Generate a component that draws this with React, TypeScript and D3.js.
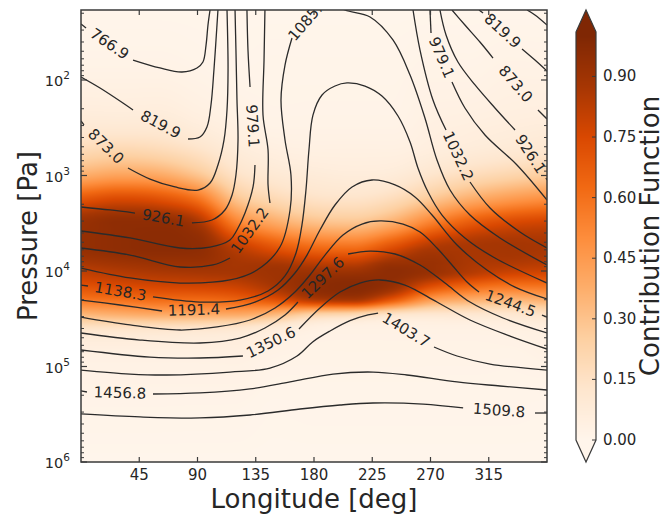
import React, { useMemo } from "react";
import * as d3 from "d3";

// ---------- axes / ticks ----------
const lonTicks = [45, 90, 135, 180, 225, 270, 315];
const pressureDecades = [2, 3, 4, 5, 6];
const cbTicks = [0, 0.15, 0.3, 0.45, 0.6, 0.75, 0.9];
const lonDomain = [0, 360];
const logPDomain = [1.267, 6]; // top, bottom
const cbDomain = [0, 1.01];

// ---------- contribution function grid (rows = log10 P, cols = longitude) ----------
const cfLon = [0, 30, 60, 90, 120, 150, 180, 210, 240, 270, 300, 330, 360];
const cfLogP = [1.25, 2.0, 2.5, 2.75, 3.0, 3.25, 3.5, 3.75, 4.0, 4.15, 4.3, 4.45, 4.6, 4.8, 5.2, 6.0];
const cf_1_25 = [0, 0, 0, 0, 0, 0, 0, 0, 0, 0, 0, 0, 0];
const cf_2_00 = [0.03, 0.03, 0.03, 0.02, 0.01, 0.01, 0.01, 0.01, 0.01, 0.02, 0.02, 0.03, 0.03];
const cf_2_50 = [0.1, 0.1, 0.1, 0.07, 0.04, 0.02, 0.02, 0.02, 0.02, 0.04, 0.05, 0.06, 0.07];
const cf_2_75 = [0.2, 0.22, 0.2, 0.15, 0.08, 0.05, 0.04, 0.04, 0.04, 0.06, 0.08, 0.1, 0.12];
const cf_3_00 = [0.38, 0.42, 0.4, 0.3, 0.15, 0.1, 0.08, 0.07, 0.08, 0.13, 0.18, 0.22, 0.26];
const cf_3_25 = [0.7, 0.75, 0.72, 0.6, 0.3, 0.2, 0.15, 0.14, 0.18, 0.28, 0.38, 0.45, 0.5];
const cf_3_50 = [0.92, 0.95, 0.95, 0.88, 0.55, 0.4, 0.32, 0.3, 0.38, 0.55, 0.68, 0.75, 0.78];
const cf_3_75 = [0.93, 0.95, 0.96, 0.95, 0.82, 0.7, 0.62, 0.6, 0.72, 0.85, 0.87, 0.88, 0.87];
const cf_4_00 = [0.82, 0.85, 0.87, 0.88, 0.88, 0.9, 0.9, 0.9, 0.95, 0.92, 0.85, 0.8, 0.78];
const cf_4_15 = [0.72, 0.75, 0.77, 0.78, 0.8, 0.88, 0.95, 0.97, 0.93, 0.75, 0.65, 0.6, 0.6];
const cf_4_30 = [0.58, 0.6, 0.62, 0.62, 0.65, 0.72, 0.85, 0.88, 0.7, 0.45, 0.38, 0.35, 0.38];
const cf_4_45 = [0.35, 0.38, 0.4, 0.4, 0.4, 0.35, 0.25, 0.22, 0.15, 0.12, 0.12, 0.12, 0.15];
const cf_4_60 = [0.14, 0.14, 0.14, 0.13, 0.12, 0.08, 0.04, 0.03, 0.03, 0.03, 0.03, 0.04, 0.05];
const cf_4_80 = [0.05, 0.05, 0.05, 0.05, 0.05, 0.03, 0.02, 0.02, 0.02, 0.02, 0.02, 0.02, 0.03];
const cf_5_20 = [0.02, 0.02, 0.02, 0.02, 0.02, 0.01, 0.01, 0.01, 0.01, 0.01, 0.01, 0.01, 0.01];
const cf_6_00 = [0, 0, 0, 0, 0, 0, 0, 0, 0, 0, 0, 0, 0];
const cfRows = [cf_1_25, cf_2_00, cf_2_50, cf_2_75, cf_3_00, cf_3_25, cf_3_50, cf_3_75, cf_4_00, cf_4_15, cf_4_30, cf_4_45, cf_4_60, cf_4_80, cf_5_20, cf_6_00];

// ---------- temperature contours, [longitude, log10 P]; a label sits in each gap between pieces ----------
const t7669 = [[[0, 1.414], [3.9, 1.456]], [[40.2, 1.791], [61.0, 1.874], [78.0, 1.916], [89.6, 1.874], [94.2, 1.812], [96.6, 1.634], [98.1, 1.424], [99.7, 1.267]]];
const t7669b = [[[344.6, 1.267], [350.7, 1.319], [360, 1.424]]];
const t8199 = [[[0, 1.969], [14.7, 2.084], [32.4, 2.241], [40.2, 2.314]], [[82.7, 2.618], [91.9, 2.597], [97.3, 2.492], [100.4, 2.262], [102.7, 1.895], [104.3, 1.581], [105.8, 1.267]]];
const t8199b = [[[307.5, 1.267], [310.6, 1.299]], [[340.7, 1.675], [350.7, 1.791], [360, 1.906]]];
const t8730 = [[[0, 2.429], [2.3, 2.471]], [[36.3, 2.921], [53.3, 3.037], [72.6, 3.12], [90.4, 3.152], [99.7, 3.079], [105.8, 2.89], [110.5, 2.628], [112.8, 2.314], [113.6, 1.895], [112.8, 1.267]]];
const t8730b = [[[286.6, 1.267], [296.6, 1.424], [308.2, 1.602], [318.3, 1.77]], [[353.0, 2.314], [360, 2.408]]];
const t9261 = [[[0, 3.33], [22.4, 3.361], [41.7, 3.393]], [[85.7, 3.497], [101.2, 3.466], [111.2, 3.361], [116.7, 3.204], [119.7, 2.995], [121.3, 2.628], [120.5, 2.209], [119.7, 1.686], [119.0, 1.267]]];
const t9261b = [[[277.3, 1.267], [282, 1.529], [291.2, 1.812], [304.4, 2.052], [319.8, 2.293], [335.3, 2.524]], [[359.2, 3.026], [360, 3.047]]];
const t9791 = [[[0, 3.581], [37.9, 3.654], [76.5, 3.759], [99.7, 3.749], [115.1, 3.675], [120.5, 3.571], [126.7, 3.393], [132.9, 3.12], [134.4, 2.89]], [[130.6, 2.073], [129.0, 1.686], [128.2, 1.267]]];
const t9791b = [[[269.6, 1.267], [270.4, 1.508]], [[286.6, 2.021], [296.6, 2.293], [312.1, 2.576], [336.8, 2.89], [360, 3.257]]];
const t10322 = [[[0, 3.759], [37.9, 3.833], [76.5, 3.958], [102, 3.937], [115.1, 3.864]], [[146, 3.288], [144.5, 3.099], [144.5, 2.733], [140.6, 2.367], [141.4, 1.791], [142.1, 1.267]]];
const t10322b = [[[256.5, 1.267], [261.9, 1.686], [271.9, 2.209], [282, 2.524]], [[300.5, 3.068], [316, 3.34], [339.1, 3.592], [360, 3.759]]];
const t10853 = [
  [[0, 3.969], [37.9, 4.073], [76.5, 4.126], [115.1, 4.094], [136, 3.99], [153.7, 3.749], [161.5, 3.361], [162.2, 2.995], [157.6, 2.628], [154.5, 2.209], [157.6, 1.843], [163, 1.56]],
  [[188.5, 1.16], [203.9, 1.267], [223.3, 1.34], [241, 1.581], [254.2, 1.948], [265.7, 2.398], [275, 2.838], [285.1, 3.152], [300.5, 3.414], [323.7, 3.654], [360, 3.937]],
];
const t11383 = [
  [[0, 4.147], [5.4, 4.157]],
  [[55.6, 4.272], [91.9, 4.325], [122.8, 4.304], [144.5, 4.209], [157.6, 4.052], [166.1, 3.812], [170.7, 3.518], [173.8, 3.152], [176.1, 2.733], [179.2, 2.367], [186.2, 2.157], [196.2, 2.063], [205.5, 2.031], [219.4, 2.063], [232.5, 2.168], [244.9, 2.377], [254.2, 2.649], [260.3, 2.921], [268.1, 3.173], [278.9, 3.414], [296.6, 3.654], [319.8, 3.864], [360, 4.126]],
];
const t11914 = [
  [[0, 4.304], [30.1, 4.356], [62.6, 4.419]],
  [[112, 4.398], [134.4, 4.325], [152.2, 4.199], [165.3, 4.021], [174.6, 3.833], [184.6, 3.571], [196.2, 3.309], [209.4, 3.12], [224.8, 3.047], [242.6, 3.099], [258, 3.225], [271.2, 3.414], [290.5, 3.728], [313.6, 3.99], [335.3, 4.168], [360, 4.293]],
];
const t12445 = [
  [[0, 4.482], [37.9, 4.565], [76.5, 4.618], [105.1, 4.586], [130.6, 4.513], [149.9, 4.387], [165.3, 4.22], [176.9, 4.042], [188.5, 3.833], [202.4, 3.623], [217.1, 3.508], [231, 3.476], [248.8, 3.508], [261.9, 3.592], [275, 3.759], [286.6, 3.937], [298.2, 4.115], [307.5, 4.22]],
  [[356.1, 4.461], [360, 4.482]],
];
const t12976 = [
  [[0, 4.649], [45.6, 4.723], [91.9, 4.754], [122.8, 4.702], [142.1, 4.597], [157.6, 4.461], [167.6, 4.325]],
  [[206.3, 3.822], [223.3, 3.791], [242.6, 3.822], [261.9, 3.937], [281.2, 4.126], [300.5, 4.325], [326, 4.492], [360, 4.649]],
];
const t13506 = [
  [[0, 4.827], [53.3, 4.901], [91.9, 4.911], [125.1, 4.89]],
  [[168.4, 4.607], [184.6, 4.387], [200.1, 4.22], [215.5, 4.126], [231, 4.094], [250.3, 4.147], [275, 4.325], [300.5, 4.513], [331.4, 4.681], [360, 4.817]],
];
const t14037 = [
  [[0, 5.037], [37.9, 5.079], [66.4, 5.089], [115.1, 5.058], [146, 5.016], [166.9, 4.89], [179.2, 4.74], [192.4, 4.628], [207.8, 4.52], [221.7, 4.46], [229.5, 4.44]],
  [[272.7, 4.796], [290.5, 4.89], [316, 4.974], [360, 5.037]],
];
const t14568 = [[[0, 5.256], [4.6, 5.267]], [[55.6, 5.288], [91.9, 5.277], [130.6, 5.235], [161.5, 5.162], [194.7, 5.079], [225.6, 5.058], [251.8, 5.089], [290.5, 5.162], [323.7, 5.204], [360, 5.246]]];
const t15098 = [[[0, 5.497], [45.6, 5.528], [91.9, 5.539], [130.6, 5.508], [169.2, 5.445], [200.1, 5.403], [225.6, 5.382], [264.3, 5.393], [295.2, 5.434]], [[350.7, 5.487], [360, 5.487]]];

const contourSets = [
  { level: 766.9, pieces: t7669 }, { level: 766.9, pieces: t7669b },
  { level: 819.9, pieces: t8199 }, { level: 819.9, pieces: t8199b },
  { level: 873.0, pieces: t8730 }, { level: 873.0, pieces: t8730b },
  { level: 926.1, pieces: t9261 }, { level: 926.1, pieces: t9261b },
  { level: 979.1, pieces: t9791 }, { level: 979.1, pieces: t9791b },
  { level: 1032.2, pieces: t10322 }, { level: 1032.2, pieces: t10322b },
  { level: 1085.3, pieces: t10853 },
  { level: 1138.3, pieces: t11383 },
  { level: 1191.4, pieces: t11914 },
  { level: 1244.5, pieces: t12445 },
  { level: 1297.6, pieces: t12976 },
  { level: 1350.6, pieces: t13506 },
  { level: 1403.7, pieces: t14037 },
  { level: 1456.8, pieces: t14568 },
  { level: 1509.8, pieces: t15098 },
];

// matplotlib "Oranges"
const orangesStops = ["#fff5eb", "#fee6ce", "#fdd0a2", "#fdae6b", "#fd8d3c", "#f16913", "#d94801", "#a63603", "#7f2704"];

const W = 664;
const H = 516;
const PX0 = 81, PX1 = 547, PY0 = 10, PY1 = 462;
const CBX0 = 576, CBX1 = 596, CBY0 = 32, CBY1 = 440;
const FONT = "DejaVu Sans, sans-serif";
const TXT = "#262626";

// monotone cubic (Fritsch-Carlson) interpolation through given samples
function monotone(xs: number[], ys: number[]) {
  const n = xs.length;
  const d: number[] = [];
  for (let k = 0; k < n - 1; k++) d.push((ys[k + 1] - ys[k]) / (xs[k + 1] - xs[k]));
  const m: number[] = new Array(n);
  m[0] = d[0];
  m[n - 1] = d[n - 2];
  for (let k = 1; k < n - 1; k++) m[k] = d[k - 1] * d[k] <= 0 ? 0 : (d[k - 1] + d[k]) / 2;
  for (let k = 0; k < n - 1; k++) {
    if (d[k] === 0) {
      m[k] = 0;
      m[k + 1] = 0;
      continue;
    }
    const a = m[k] / d[k], b = m[k + 1] / d[k];
    const s = a * a + b * b;
    if (s > 9) {
      const t = 3 / Math.sqrt(s);
      m[k] = t * a * d[k];
      m[k + 1] = t * b * d[k];
    }
  }
  return (xv: number) => {
    let k = d3.bisectRight(xs, xv) - 1;
    k = Math.max(0, Math.min(n - 2, k));
    const h = xs[k + 1] - xs[k];
    const t = Math.max(0, Math.min(1, (xv - xs[k]) / h));
    const t2 = t * t, t3 = t2 * t;
    return (2 * t3 - 3 * t2 + 1) * ys[k] + (t3 - 2 * t2 + t) * h * m[k] + (-2 * t3 + 3 * t2) * ys[k + 1] + (t3 - t2) * h * m[k + 1];
  };
}

export default function App() {
  const x = d3.scaleLinear().domain(lonDomain).range([PX0, PX1]);
  const y = d3.scaleLog().domain([Math.pow(10, logPDomain[1]), Math.pow(10, logPDomain[0])]).range([PY1, PY0]);
  const yl = (lp: number) => y(Math.pow(10, lp));
  const cb = d3.scaleLinear().domain(cbDomain).range([CBY1, CBY0]);
  const colorScale = d3
    .scaleLinear<string>()
    .domain(orangesStops.map((_, i) => i / (orangesStops.length - 1)))
    .range(orangesStops)
    .interpolate(d3.interpolateRgb)
    .clamp(true);

  const heatURL = useMemo(() => {
    const w = PX1 - PX0, h = PY1 - PY0;
    const canvas = document.createElement("canvas");
    canvas.width = w;
    canvas.height = h;
    const ctx = canvas.getContext("2d")!;
    const img = ctx.createImageData(w, h);
    const columns = cfLon.map((_, i) => monotone(cfLogP, cfRows.map((r) => r[i])));
    for (let r = 0; r < h; r++) {
      const lp = Math.log10(y.invert(PY0 + r + 0.5));
      const rowVals = columns.map((f) => f(lp));
      const across = monotone(cfLon, rowVals);
      for (let c = 0; c < w; c++) {
        const lon = x.invert(PX0 + c + 0.5);
        const v = Math.max(0, Math.min(1, across(lon)));
        const col = d3.rgb(colorScale(v));
        const k = (r * w + c) * 4;
        img.data[k] = col.r;
        img.data[k + 1] = col.g;
        img.data[k + 2] = col.b;
        img.data[k + 3] = 255;
      }
    }
    ctx.putImageData(img, 0, 0);
    return canvas.toDataURL();
  }, []);

  const cbURL = useMemo(() => {
    const h = CBY1 - CBY0;
    const canvas = document.createElement("canvas");
    canvas.width = 1;
    canvas.height = h;
    const ctx = canvas.getContext("2d")!;
    for (let r = 0; r < h; r++) {
      ctx.fillStyle = colorScale(cb.invert(CBY0 + r + 0.5));
      ctx.fillRect(0, r, 1, 1);
    }
    return canvas.toDataURL();
  }, []);

  const line = d3
    .line<number[]>()
    .x((d) => x(d[0]))
    .y((d) => yl(d[1]))
    .curve(d3.curveCatmullRom.alpha(0.5));

  const labels: { t: string; cx: number; cy: number; ang: number }[] = [];
  contourSets.forEach((cs) => {
    for (let k = 0; k < cs.pieces.length - 1; k++) {
      const a = cs.pieces[k][cs.pieces[k].length - 1];
      const b = cs.pieces[k + 1][0];
      const ax = x(a[0]), ay = yl(a[1]), bx = x(b[0]), by = yl(b[1]);
      let ang = (Math.atan2(by - ay, bx - ax) * 180) / Math.PI;
      if (ang > 90) ang -= 180;
      if (ang < -90) ang += 180;
      labels.push({ t: cs.level.toFixed(1), cx: (ax + bx) / 2, cy: (ay + by) / 2, ang });
    }
  });

  const minorTicks: number[] = [];
  for (let e = 1; e < 6; e++)
    for (let m = 2; m <= 9; m++) {
      const v = m * Math.pow(10, e);
      if (v >= Math.pow(10, logPDomain[0]) && v <= 1e6) minorTicks.push(v);
    }

  const frame = "#3a3a3a";

  return (
    <svg width={W} height={H} style={{ position: "absolute", left: 0, top: 0, background: "#fff" }}>
      <defs>
        <clipPath id="plotClip">
          <rect x={PX0} y={PY0} width={PX1 - PX0} height={PY1 - PY0} />
        </clipPath>
      </defs>
      <image href={heatURL} x={PX0} y={PY0} width={PX1 - PX0} height={PY1 - PY0} preserveAspectRatio="none" />
      <g clipPath="url(#plotClip)">
        {contourSets.map((cs, i) =>
          cs.pieces.map((p, k) => (
            <path key={`${i}-${k}`} d={line(p as number[][]) || ""} fill="none" stroke="#2b2b2b" strokeWidth={1.3} />
          ))
        )}
        {labels.map((l, i) => (
          <text
            key={i}
            x={l.cx}
            y={l.cy}
            transform={`rotate(${l.ang},${l.cx},${l.cy})`}
            textAnchor="middle"
            dominantBaseline="central"
            fontFamily={FONT}
            fontSize={15}
            fill={TXT}
          >
            {l.t}
          </text>
        ))}
      </g>
      {/* frame */}
      <rect x={PX0} y={PY0} width={PX1 - PX0} height={PY1 - PY0} fill="none" stroke={frame} strokeWidth={1.5} />
      {/* x ticks */}
      {lonTicks.map((t) => (
        <g key={t}>
          <line x1={x(t)} x2={x(t)} y1={PY1} y2={PY1 - 5} stroke={frame} strokeWidth={1.2} />
          <line x1={x(t)} x2={x(t)} y1={PY0} y2={PY0 + 5} stroke={frame} strokeWidth={1.2} />
          <text x={x(t)} y={PY1 + 18} textAnchor="middle" fontFamily={FONT} fontSize={15} fill={TXT}>
            {t}
          </text>
        </g>
      ))}
      {/* y ticks */}
      {pressureDecades.map((e) => (
        <g key={e}>
          <line x1={PX0} x2={PX0 + 6} y1={y(Math.pow(10, e))} y2={y(Math.pow(10, e))} stroke={frame} strokeWidth={1.2} />
          <line x1={PX1} x2={PX1 - 6} y1={y(Math.pow(10, e))} y2={y(Math.pow(10, e))} stroke={frame} strokeWidth={1.2} />
          <text x={PX0 - 11} y={y(Math.pow(10, e)) + 6} textAnchor="end" fontFamily={FONT} fontSize={14.5} fill={TXT}>
            10
            <tspan dy={-7} fontSize={10.5}>
              {e}
            </tspan>
          </text>
        </g>
      ))}
      {minorTicks.map((v) => (
        <g key={v}>
          <line x1={PX0} x2={PX0 + 3} y1={y(v)} y2={y(v)} stroke={frame} strokeWidth={1} />
          <line x1={PX1} x2={PX1 - 3} y1={y(v)} y2={y(v)} stroke={frame} strokeWidth={1} />
        </g>
      ))}
      {/* axis titles */}
      <text x={(PX0 + PX1) / 2} y={508} textAnchor="middle" fontFamily={FONT} fontSize={26} fill={TXT}>
        Longitude [deg]
      </text>
      <text
        transform={`translate(37,${(PY0 + PY1) / 2}) rotate(-90)`}
        textAnchor="middle"
        fontFamily={FONT}
        fontSize={26}
        fill={TXT}
      >
        Pressure [Pa]
      </text>
      {/* colorbar */}
      <image href={cbURL} x={CBX0} y={CBY0} width={CBX1 - CBX0} height={CBY1 - CBY0} preserveAspectRatio="none" />
      <path d={`M${CBX0},${CBY0} L${(CBX0 + CBX1) / 2},${CBY0 - 22} L${CBX1},${CBY0} Z`} fill={orangesStops[8]} />
      <path d={`M${CBX0},${CBY1} L${(CBX0 + CBX1) / 2},${CBY1 + 22} L${CBX1},${CBY1} Z`} fill={orangesStops[0]} />
      <path
        d={`M${CBX0},${CBY0} L${(CBX0 + CBX1) / 2},${CBY0 - 22} L${CBX1},${CBY0} L${CBX1},${CBY1} L${(CBX0 + CBX1) / 2},${CBY1 + 22} L${CBX0},${CBY1} Z`}
        fill="none"
        stroke={frame}
        strokeWidth={1.2}
      />
      {cbTicks.map((t) => (
        <g key={t}>
          <line x1={CBX1} x2={CBX1 - 4} y1={cb(t)} y2={cb(t)} stroke={frame} strokeWidth={1} />
          <text x={CBX1 + 7} y={cb(t) + 5} fontFamily={FONT} fontSize={15} fill={TXT}>
            {t.toFixed(2)}
          </text>
        </g>
      ))}
      <text transform={`translate(659,236) rotate(-90)`} textAnchor="middle" fontFamily={FONT} fontSize={26} fill={TXT}>
        Contribution Function
      </text>
    </svg>
  );
}
